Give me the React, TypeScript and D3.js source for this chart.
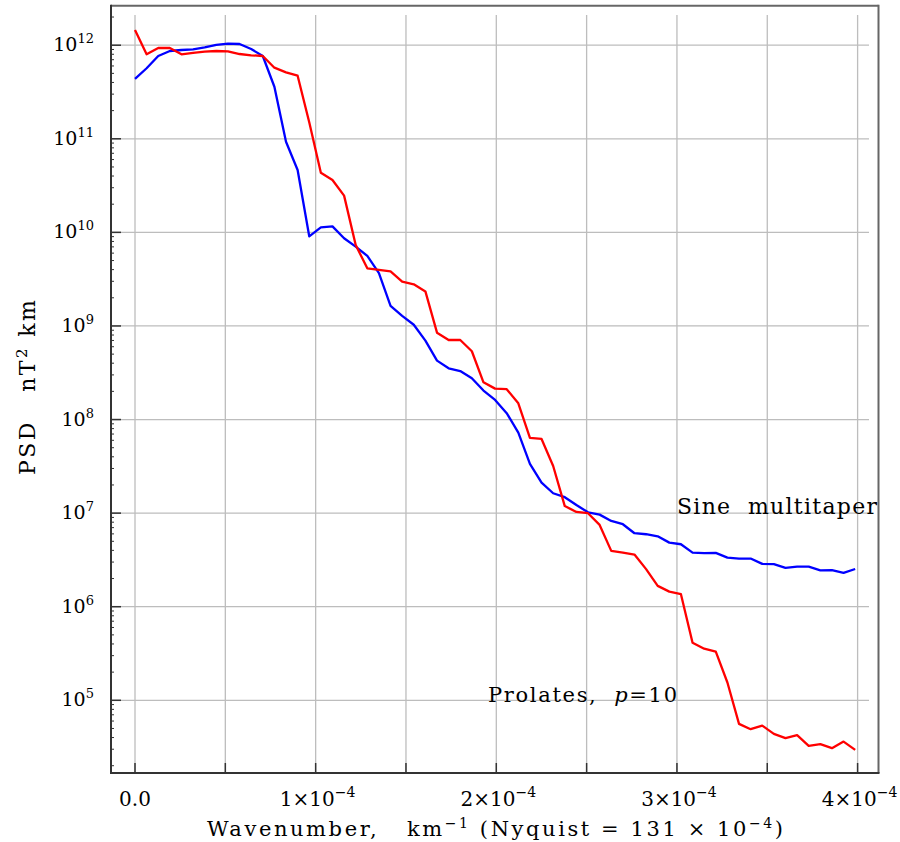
import React from "react";
import * as d3 from "d3";

// Power spectral density estimates (nT^2 km) on a uniform wavenumber grid
const WAVENUMBER_STEP = 0.0643e-4; // km^-1

const SINE_MULTITAPER = [
  4.36e11, 5.67e11, 7.67e11, 8.67e11, 8.89e11, 9.04e11, 9.5e11, 1.01e12, 1.04e12, 1.03e12,
  9.1e11, 7.67e11, 3.6e11, 9.3e10, 4.64e10, 9.08e9, 1.13e10, 1.16e10, 8.65e9, 7.03e9,
  5.6e9, 3.66e9, 1.64e9, 1.28e9, 1.03e9, 6.97e8, 4.26e8, 3.53e8, 3.3e8, 2.76e8,
  2.04e8, 1.62e8, 1.17e8, 7.24e7, 3.36e7, 2.12e7, 1.63e7, 1.48e7, 1.22e7, 1.02e7,
  9.64e6, 8.26e6, 7.61e6, 6.1e6, 5.95e6, 5.66e6, 4.84e6, 4.65e6, 3.79e6, 3.73e6,
  3.76e6, 3.35e6, 3.27e6, 3.27e6, 2.87e6, 2.85e6, 2.6e6, 2.68e6, 2.68e6, 2.45e6,
  2.46e6, 2.3e6, 2.53e6,
];

const PROLATES = [
  1.45e12, 8.0e11, 9.33e11, 9.33e11, 8.0e11, 8.26e11, 8.52e11, 8.67e11, 8.6e11, 8.05e11,
  7.8e11, 7.67e11, 5.75e11, 5.13e11, 4.72e11, 1.5e11, 4.34e10, 3.63e10, 2.47e10, 7.33e9,
  4.13e9, 3.97e9, 3.82e9, 2.97e9, 2.79e9, 2.34e9, 8.48e8, 7.08e8, 7.08e8, 5.37e8,
  2.5e8, 2.14e8, 2.11e8, 1.49e8, 6.36e7, 6.2e7, 3.19e7, 1.19e7, 1.03e7, 9.98e6,
  7.48e6, 3.95e6, 3.79e6, 3.61e6, 2.52e6, 1.67e6, 1.45e6, 1.36e6, 4.13e5, 3.56e5,
  3.31e5, 1.55e5, 5.6e4, 4.91e4, 5.37e4, 4.38e4, 3.94e4, 4.24e4, 3.26e4, 3.4e4,
  3.08e4, 3.62e4, 2.95e4,
];

const X_GRID = [0, 0.5e-4, 1e-4, 1.5e-4, 2e-4, 2.5e-4, 3e-4, 3.5e-4, 4e-4];
const X_LABELS = [
  { value: 0, base: "0.0", exp: "" },
  { value: 1e-4, base: "1×10", exp: "−4" },
  { value: 2e-4, base: "2×10", exp: "−4" },
  { value: 3e-4, base: "3×10", exp: "−4" },
  { value: 4e-4, base: "4×10", exp: "−4" },
];
const Y_EXPONENTS = [5, 6, 7, 8, 9, 10, 11, 12];

const W = 900;
const H = 842;
const FRAME = { left: 111, right: 878.5, top: 5.7, bottom: 773 };
const GRID_TOP = 15;
const GRID_RIGHT = 869;

const SERIF = "'DejaVu Serif', serif";

export default function App() {
  const x = d3.scaleLinear().domain([0, 4e-4]).range([135, 857.6]);
  const y = d3.scaleLog().domain([1e5, 1e12]).range([700.3, 45.2]);

  const line = d3
    .line<number>()
    .x((_, i) => x(i * WAVENUMBER_STEP))
    .y((d) => y(d));

  // minor log ticks between decades, limited to the frame
  const minor: number[] = [];
  for (let e = 4; e <= 12; e++) {
    for (let m = 2; m <= 9; m++) {
      const v = m * Math.pow(10, e);
      const py = y(v);
      if (py > FRAME.top + 1 && py < FRAME.bottom - 1) minor.push(v);
    }
  }

  return (
    <svg
      width={W}
      height={H}
      style={{ position: "absolute", left: 0, top: 0, background: "#fff" }}
    >
      <rect x={0} y={0} width={W} height={H} fill="#fff" />

      {/* grid */}
      <g stroke="#bdbdbd" strokeWidth={1.3}>
        {X_GRID.map((v) => (
          <line key={"gx" + v} x1={x(v)} x2={x(v)} y1={GRID_TOP} y2={FRAME.bottom} />
        ))}
        {Y_EXPONENTS.map((e) => (
          <line
            key={"gy" + e}
            x1={FRAME.left}
            x2={GRID_RIGHT}
            y1={y(Math.pow(10, e))}
            y2={y(Math.pow(10, e))}
          />
        ))}
      </g>

      {/* spectra */}
      <path d={line(SINE_MULTITAPER) ?? ""} fill="none" stroke="#0000ff" strokeWidth={2.3} strokeLinejoin="round" />
      <path d={line(PROLATES) ?? ""} fill="none" stroke="#ff0000" strokeWidth={2.3} strokeLinejoin="round" />

      {/* frame */}
      <line x1={FRAME.left} x2={FRAME.right} y1={FRAME.top} y2={FRAME.top} stroke="#666" strokeWidth={2} />
      <line x1={FRAME.right} x2={FRAME.right} y1={FRAME.top - 1} y2={FRAME.bottom} stroke="#666" strokeWidth={2} />
      <line x1={FRAME.left} x2={FRAME.left} y1={FRAME.top - 1} y2={FRAME.bottom + 1} stroke="#333" strokeWidth={2} />
      <line x1={FRAME.left - 1} x2={FRAME.right + 1} y1={FRAME.bottom} y2={FRAME.bottom} stroke="#333" strokeWidth={2} />

      {/* ticks */}
      <g stroke="#333" strokeWidth={1.5}>
        {X_GRID.map((v) => (
          <line key={"tx" + v} x1={x(v)} x2={x(v)} y1={FRAME.bottom} y2={FRAME.bottom - 10} />
        ))}
        {Y_EXPONENTS.map((e) => (
          <line
            key={"ty" + e}
            x1={FRAME.left}
            x2={FRAME.left + 10}
            y1={y(Math.pow(10, e))}
            y2={y(Math.pow(10, e))}
          />
        ))}
        {minor.map((v) => (
          <line key={"tm" + v} x1={FRAME.left} x2={FRAME.left + 3} y1={y(v)} y2={y(v)} strokeWidth={1} />
        ))}
      </g>

      {/* y tick labels */}
      <g fontFamily={SERIF} fill="#000">
        {Y_EXPONENTS.map((e) => (
          <text key={"ly" + e} x={94} y={y(Math.pow(10, e)) + 6} textAnchor="end" fontSize={19}>
            10
            <tspan dy={-8} fontSize={13}>
              {e}
            </tspan>
          </text>
        ))}
      </g>

      {/* x tick labels */}
      <g fontFamily={SERIF} fill="#000">
        {X_LABELS.map((t) => (
          <text key={"lx" + t.value} x={x(t.value) + (t.exp ? 2 : 0)} y={806} textAnchor="middle" fontSize={20}>
            {t.base}
            {t.exp && (
              <tspan dy={-9} fontSize={14}>
                {t.exp}
              </tspan>
            )}
          </text>
        ))}
      </g>

      {/* axis titles */}
      <text
        x={207}
        y={836}
        fontFamily={SERIF}
        fontSize={21}
        fill="#000"
        textLength={576}
        lengthAdjust="spacing"
        style={{ whiteSpace: "pre" }}
      >
        {"Wavenumber,   km"}
        <tspan dy={-8} fontSize={14}>−1</tspan>
        <tspan dy={8}>{" (Nyquist = 131 × 10"}</tspan>
        <tspan dy={-8} fontSize={14}>−4</tspan>
        <tspan dy={8}>)</tspan>
      </text>
      <text
        transform="translate(35,475) rotate(-90)"
        fontFamily={SERIF}
        fontSize={22}
        fill="#000"
        textLength={175}
        lengthAdjust="spacing"
        style={{ whiteSpace: "pre" }}
      >
        {"PSD   nT"}
        <tspan dy={-8} fontSize={15}>2</tspan>
        <tspan dy={8}>{" km"}</tspan>
      </text>

      {/* curve annotations */}
      <text
        x={677}
        y={514}
        fontFamily={SERIF}
        fontSize={22}
        fill="#000"
        textLength={200}
        lengthAdjust="spacing"
        style={{ whiteSpace: "pre" }}
      >
        {"Sine  multitaper"}
      </text>
      <text
        x={488}
        y={702}
        fontFamily={SERIF}
        fontSize={21}
        fill="#000"
        textLength={189}
        lengthAdjust="spacing"
        style={{ whiteSpace: "pre" }}
      >
        {"Prolates,  "}
        <tspan fontStyle="italic">p</tspan>
        {"=10"}
      </text>
    </svg>
  );
}
